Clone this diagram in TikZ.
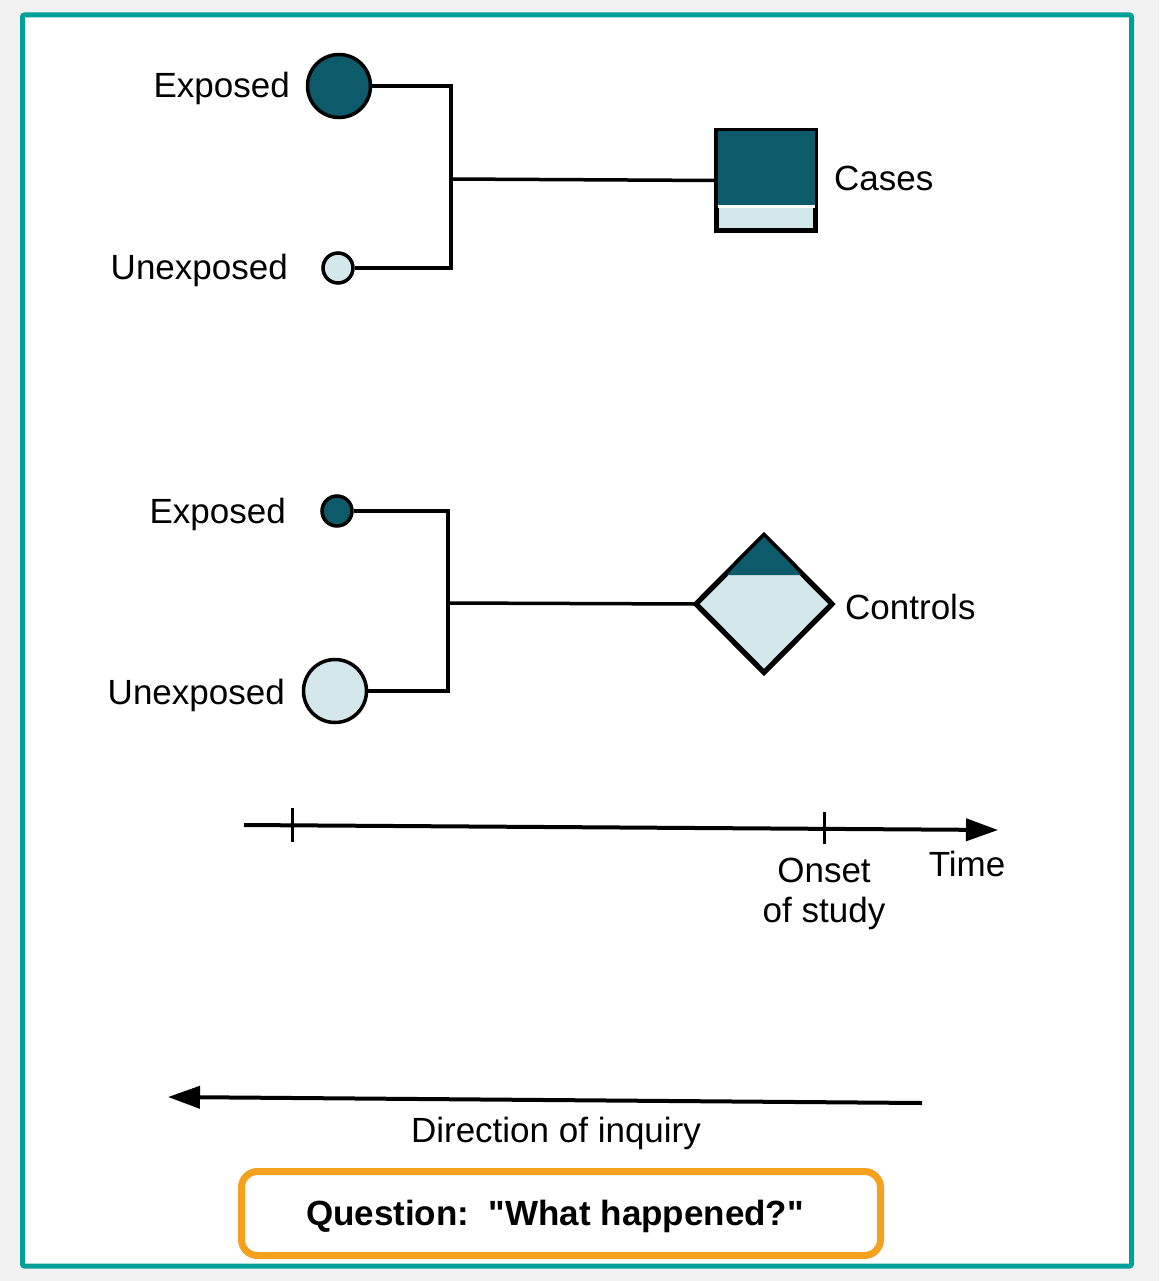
\documentclass[tikz,border=0pt]{standalone}
\usepackage{fontspec}
\setmainfont{Liberation Sans}[Ligatures=TeXOff]
\usetikzlibrary{shapes.geometric,arrows.meta}
\definecolor{bggray}{HTML}{F2F2F2}
\definecolor{frameteal}{HTML}{00A09A}
\definecolor{darkteal}{HTML}{0D5A6A}
\definecolor{lightblue}{HTML}{D4E7EB}
\definecolor{qorange}{HTML}{F5A11F}
\begin{document}
\begin{tikzpicture}[x=1pt,y=-1pt,
  lbl/.style={inner sep=0pt,font=\fontsize{35}{40}\selectfont},
  conn/.style={line width=3.5pt,line join=miter},
  dot/.style={circle,draw=black,line width=3.5pt,inner sep=0pt},
  bigdot/.style={dot,minimum size=63pt},
  smalldot/.style={dot,minimum size=30pt},
  axis/.style={line width=4pt},
  bigarrow/.style={-{Triangle[length=32pt,width=22pt]}}
]
\useasboundingbox (0,0) rectangle (1159,1281);
\fill[bggray] (0,0) rectangle (1159,1281);
\draw[frameteal,fill=white,line width=5pt,rounded corners=2pt] (22.5,15) rectangle (1131.5,1266);

% ---- top group
\node[bigdot,fill=darkteal] (e1) at (339,86) {};
\node[smalldot,fill=lightblue] (u1) at (338,268) {};
\node[lbl,anchor=east] (le1) at (290,88) {Exposed};
\node[lbl,anchor=east] (lu1) at (288,270) {Unexposed};
\coordinate (j1) at (451,179);
\node[rectangle,draw=black,line width=3.5pt,fill=lightblue,inner sep=0pt,minimum width=97pt,minimum height=98pt] (cases) at (766,180.5) {};
\fill[darkteal] ([xshift=1.5pt,yshift=1.5pt]cases.north west) rectangle ([xshift=-1.5pt]cases.east |- 0,205);
\fill[white] ([xshift=1.5pt]cases.west |- 0,205) rectangle ([xshift=-1.5pt]cases.east |- 0,208);
\draw[line width=3.5pt] (cases.north west) rectangle (cases.south east);
\node[lbl,anchor=west] (lcases) at (834,178) {Cases};
\draw[conn] (e1.east) -| (j1) |- (u1.east);
\draw[conn] (j1) -- (cases.west);

% ---- bottom group
\node[smalldot,fill=darkteal] (e2) at (337,511) {};
\node[bigdot,fill=lightblue] (u2) at (335,691) {};
\node[lbl,anchor=east] (le2) at (286,514) {Exposed};
\node[lbl,anchor=east] (lu2) at (285,695) {Unexposed};
\coordinate (j2) at (448,603);
\node[diamond,draw=black,line width=3.5pt,fill=lightblue,inner sep=0pt,minimum width=135pt,minimum height=136pt] (ctl) at (764,604) {};
\fill[darkteal] (ctl.north) -- (727,575) -- (801,575) -- cycle;
\draw[line width=3.5pt,line join=miter] (ctl.north) -- (ctl.east) -- (ctl.south) -- (ctl.west) -- cycle;
\node[lbl,anchor=west] (lctl) at (845,607) {Controls};
\draw[conn] (e2.east) -| (j2) |- (u2.east);
\draw[conn] (j2) -- (ctl.west);

% ---- time axis
\coordinate (ta) at (244,825);
\coordinate (tb) at (998,830);
\draw[axis,bigarrow] (ta) -- (tb);
\coordinate (t1) at (292,825);
\coordinate (t2) at (824,829);
\draw[line width=3pt] ([yshift=-17pt]t1) -- ([yshift=17pt]t1);
\draw[line width=3pt] ([yshift=-15pt]t2) -- ([yshift=17pt]t2);
\node[lbl,align=center,font=\fontsize{35}{40}\selectfont] (onset) at (824,894) {Onset\\of study};
\node[lbl] (ltime) at (967,864) {Time};

% ---- direction of inquiry
\coordinate (da) at (922,1103);
\coordinate (db) at (168,1097);
\draw[axis,bigarrow] (da) -- (db);
\node[lbl] (ldir) at (556,1133) {Direction of inquiry};

% ---- question box
\draw[qorange,line width=7pt,rounded corners=16pt,fill=white] (241.5,1171.5) rectangle (880.5,1255.5);
\node[lbl,font=\fontsize{35}{40}\selectfont\bfseries] (q) at (555,1216) {Question:\ \ "What happened?"};
\end{tikzpicture}
\end{document}
